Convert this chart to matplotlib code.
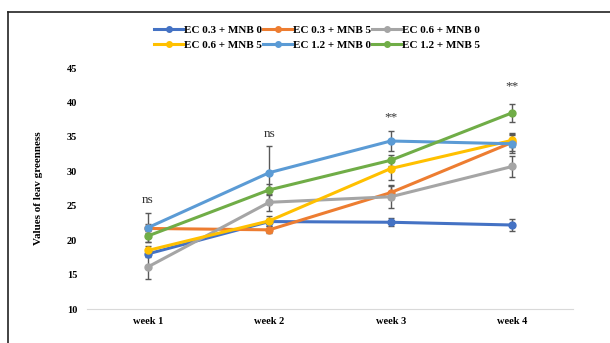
import matplotlib.pyplot as plt
from matplotlib.lines import Line2D

plt.rcParams['font.family'] = ['Liberation Serif', 'DejaVu Serif']

# Datos
semanas = ['week 1', 'week 2', 'week 3', 'week 4']
series = ['EC 0.3 + MNB 0', 'EC 0.3 + MNB 5', 'EC 0.6 + MNB 0',
          'EC 0.6 + MNB 5', 'EC 1.2 + MNB 0', 'EC 1.2 + MNB 5']
colores = ['#4472C4', '#ED7D31', '#A5A5A5', '#FFC000', '#5B9BD5', '#70AD47']

ec03_mnb0 = [18.0, 22.7, 22.6, 22.2]
ec03_mnb5 = [21.7, 21.5, 26.9, 34.2]
ec06_mnb0 = [16.1, 25.5, 26.3, 30.7]
ec06_mnb5 = [18.5, 22.8, 30.4, 34.5]
ec12_mnb0 = [21.8, 29.8, 34.4, 34.0]
ec12_mnb5 = [20.6, 27.3, 31.6, 38.5]

err03_0 = [0.5, 0.4, 0.6, 0.8]
err03_5 = [0.6, 0.5, 0.9, 1.2]
err06_0 = [1.8, 1.2, 1.7, 1.5]
err06_5 = [0.6, 0.7, 1.6, 1.0]
err12_0 = [2.1, 3.9, 1.4, 1.3]
err12_5 = [0.8, 0.8, 0.8, 1.3]

signif = ['ns', 'ns', '**', '**']
signif_y = [25.9, 35.4, 37.9, 42.3]

valores = [ec03_mnb0, ec03_mnb5, ec06_mnb0, ec06_mnb5, ec12_mnb0, ec12_mnb5]
errores = [err03_0, err03_5, err06_0, err06_5, err12_0, err12_5]

fig = plt.figure(figsize=(6.1, 3.43), dpi=100)
ax = fig.add_axes([0.1426, 0.0991, 0.7967, 0.7026])

x = list(range(len(semanas)))
for nombre, col, v, e in zip(series, colores, valores, errores):
    ax.errorbar(x, v, yerr=e, color=col, ecolor='#595959', elinewidth=1.0,
                capsize=2.5, capthick=1.0, lw=2.2, marker='o', ms=5,
                label=nombre, zorder=3)

for xi, s, ys in zip(x, signif, signif_y):
    ax.text(xi, ys, s, ha='center', va='center', fontsize=9.5, color='#333333')

ax.set_xlim(-0.5, 3.5)
ax.set_ylim(10, 45)
ax.set_yticks(range(10, 46, 5))
ax.set_xticks(x)
ax.set_xticklabels(semanas)
for lab in ax.get_xticklabels() + ax.get_yticklabels():
    lab.set_fontweight('bold')
    lab.set_fontsize(7.5)
ax.tick_params(length=0)
ax.tick_params(axis='x', pad=6)
ax.tick_params(axis='y', pad=7)
for lado in ['top', 'right', 'left']:
    ax.spines[lado].set_visible(False)
ax.spines['bottom'].set_color('#D9D9D9')
ax.set_ylabel('Values of leav greenness', fontweight='bold', fontsize=8, labelpad=17)

# Leyenda: se reordena para que se llene por filas como en Excel
orden = [0, 3, 1, 4, 2, 5]
handles = [Line2D([], [], color=colores[i], lw=2.2, marker='o', ms=4) for i in orden]
labels = [series[i] for i in orden]
leg = fig.legend(handles, labels, loc='center', ncol=3, bbox_to_anchor=(0.52, 0.89),
                 frameon=False, prop={'weight': 'bold', 'size': 8},
                 handlelength=2.6, handletextpad=0.1, columnspacing=0.1,
                 labelspacing=0.45)

# Marco de la figura
fig.add_artist(Line2D([8 / 610, 8 / 610], [0, 1 - 12 / 343], color='#222222', lw=1.2))
fig.add_artist(Line2D([8 / 610, 1], [1 - 12 / 343, 1 - 12 / 343], color='#222222', lw=1.2))

fig.savefig('out.png', dpi=100)
